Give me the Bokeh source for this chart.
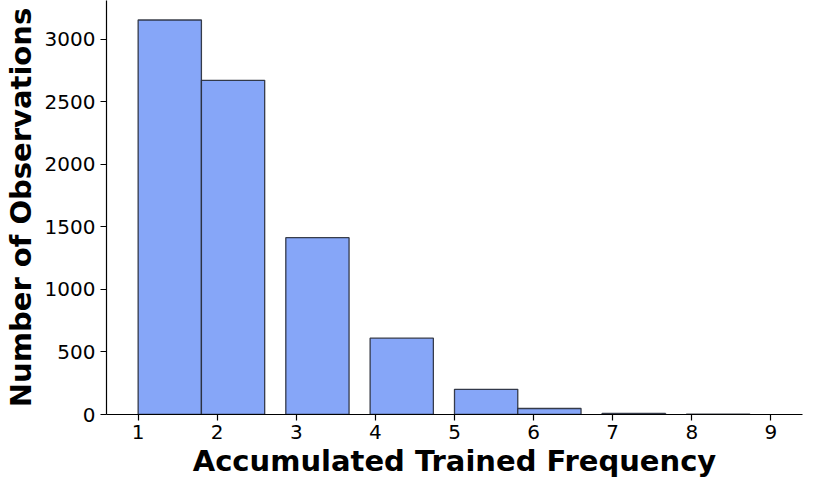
from bokeh.plotting import figure
from bokeh.models import ColumnDataSource, FixedTicker, Range1d
from bokeh.embed import file_html
from bokeh.resources import INLINE

# Histogram bins (edges) and counts
bin_left = [1.0, 1.8, 2.867, 3.933, 5.0, 5.8, 6.867, 7.933]
bin_right = [1.8, 2.6, 3.667, 4.733, 5.8, 6.6, 7.667, 8.733]
counts = [3152, 2670, 1413, 610, 201, 48, 8, 3]

x_ticks = [1, 2, 3, 4, 5, 6, 7, 8, 9]
y_ticks = [0, 500, 1000, 1500, 2000, 2500, 3000]

src = ColumnDataSource(dict(left=bin_left, right=bin_right, top=counts,
                            bottom=[0] * len(counts)))

p = figure(width=806, height=480, output_backend="svg", toolbar_location=None,
           x_range=Range1d(0.6, 9.4), y_range=Range1d(0, 3308),
           min_border_left=0, min_border_right=4, min_border_top=0,
           min_border_bottom=0)

p.quad(left="left", right="right", top="top", bottom="bottom", source=src,
       fill_color="#86A6F8", line_color="#262a36", line_alpha=0.9, line_width=1.3)

p.outline_line_color = None
p.xgrid.grid_line_color = None
p.ygrid.grid_line_color = None
p.background_fill_color = "white"
p.border_fill_color = "white"

p.xaxis.ticker = FixedTicker(ticks=x_ticks)
p.yaxis.ticker = FixedTicker(ticks=y_ticks)

for ax in (p.xaxis[0], p.yaxis[0]):
    ax.axis_line_color = "black"
    ax.axis_line_width = 1.2
    ax.major_tick_line_color = "black"
    ax.major_tick_line_width = 1.2
    ax.major_tick_out = 6
    ax.major_tick_in = 0
    ax.minor_tick_line_color = None
    ax.major_label_text_font = "DejaVu Sans"
    ax.major_label_text_font_size = "20px"
    ax.major_label_text_color = "black"
    ax.axis_label_text_font = "DejaVu Sans"
    ax.axis_label_text_font_style = "bold"
    ax.axis_label_text_font_size = "29px"
    ax.axis_label_text_color = "black"

p.xaxis.axis_label = "Accumulated Trained Frequency"
p.yaxis.axis_label = "Number of Observations"
p.xaxis.major_label_standoff = 4
p.yaxis.major_label_standoff = 5
p.xaxis.axis_label_standoff = 2
p.yaxis.axis_label_standoff = 4

open("out.html", "w").write(file_html(p, INLINE))
